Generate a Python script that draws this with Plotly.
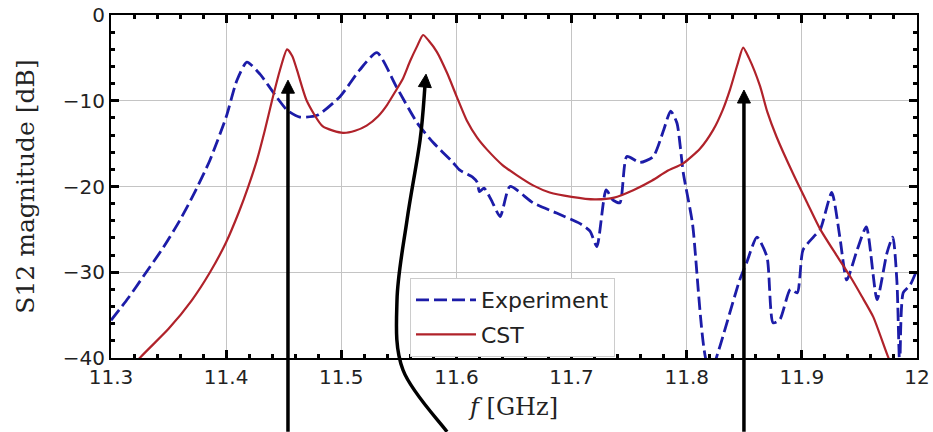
import plotly.graph_objects as go
import numpy as np

# ---------------- data ----------------
freq_cst = [11.300, 11.325, 11.350, 11.370, 11.386, 11.400, 11.411, 11.419, 11.4268, 11.4335,
            11.4398, 11.447, 11.4529, 11.4575, 11.4615, 11.470, 11.484, 11.5015, 11.512, 11.522,
            11.532, 11.5397, 11.5475, 11.5536, 11.5597, 11.566, 11.571, 11.576, 11.583, 11.592,
            11.6005, 11.609, 11.618, 11.6266, 11.640, 11.6526, 11.667, 11.681, 11.700, 11.720,
            11.737, 11.754, 11.770, 11.783, 11.797, 11.8115, 11.823, 11.8315, 11.8376, 11.844,
            11.849, 11.854, 11.8637, 11.870, 11.878, 11.892, 11.905, 11.916, 11.930, 11.942,
            11.952, 11.962, 11.975, 11.985]
s12_cst = [-44.0, -40.0, -36.6, -33.3, -30.0, -26.5, -23.0, -20.1, -16.9, -13.5,
           -10.0, -6.3, -4.0, -4.8, -6.4, -10.0, -13.0, -13.75, -13.5, -12.9,
           -11.8, -10.5, -8.8, -7.4, -5.4, -3.6, -2.33, -3.0, -4.3, -6.8,
           -9.6, -12.3, -14.3, -15.7, -17.5, -18.7, -19.9, -20.7, -21.2, -21.5,
           -21.3, -20.4, -19.3, -18.2, -17.3, -15.6, -13.4, -11.0, -8.7, -5.8,
           -3.8, -5.0, -8.3, -11.3, -14.2, -18.4, -22.0, -25.0, -28.0, -30.5,
           -32.8, -35.2, -39.9, -43.0]

freq_exp = [11.300, 11.315, 11.328, 11.345, 11.360, 11.373, 11.386, 11.400, 11.4094, 11.418,
            11.4294, 11.444, 11.453, 11.464, 11.479, 11.499, 11.516, 11.531, 11.548, 11.566,
            11.580, 11.597, 11.603, 11.614, 11.618, 11.620, 11.624, 11.630, 11.638, 11.6465,
            11.6665, 11.687, 11.707, 11.716, 11.722, 11.730, 11.736, 11.742, 11.748, 11.7594,
            11.771, 11.780, 11.786, 11.7915, 11.797, 11.805, 11.8176, 11.823, 11.828, 11.846,
            11.852, 11.861, 11.8697, 11.875, 11.881, 11.890, 11.896, 11.901, 11.910, 11.916,
            11.926, 11.933, 11.939, 11.948, 11.956, 11.9653, 11.974, 11.979, 11.9826, 11.985,
            11.988, 11.994, 12.000]
s12_exp = [-35.6, -33.0, -30.5, -27.2, -23.9, -20.6, -16.9, -11.9, -7.6, -5.5,
           -6.9, -9.6, -11.1, -11.9, -11.7, -9.5, -6.4, -4.4, -8.4, -12.6,
           -14.9, -17.2, -18.1, -18.9, -19.5, -20.6, -20.2, -21.5, -23.5, -20.0,
           -21.9, -23.1, -24.3, -25.2, -27.0, -20.4, -21.6, -21.9, -16.5, -17.2,
           -16.5, -13.4, -11.2, -12.6, -18.4, -24.3, -40.5, -40.8, -39.0, -30.9,
           -28.9, -25.9, -28.2, -35.9, -35.5, -32.0, -32.4, -27.4, -25.9, -25.0,
           -20.7, -25.9, -30.9, -27.4, -24.7, -33.2, -27.7, -25.9, -31.2, -41.0,
           -32.4, -31.5, -29.7]

x_ticks = [11.3, 11.4, 11.5, 11.6, 11.7, 11.8, 11.9, 12.0]
x_tick_labels = ["11.3", "11.4", "11.5", "11.6", "11.7", "11.8", "11.9", "12"]
y_ticks = [0, -10, -20, -30, -40]

# annotation arrows (f [GHz], dB) — tails lie below the axes
arrow_left = [(11.4537, -48.6), (11.4537, -7.6)]
arrow_mid = [(11.5918, -48.6), (11.5536, -41.4), (11.5484, -33.2), (11.5571, -23.9),
             (11.5684, -14.6), (11.5736, -6.9)]
arrow_right = [(11.8497, -48.6), (11.8497, -8.75)]

# ---------------- layout geometry ----------------
W, H = 933, 432
ML, MR, MT, MB = 111, 16, 15, 74
PW, PH = W - ML - MR, H - MT - MB
XR = [11.3, 12.0]
YR = [-40, 0]

def to_px(f, db):
    return ((f - XR[0]) / (XR[1] - XR[0]) * PW, (db - YR[0]) / (YR[1] - YR[0]) * PH)

def to_paper(px, py):
    return px / PW, py / PH

def arrow_shapes(pts):
    P = [np.array(to_px(f, d)) for f, d in pts]
    shapes = []
    tip, prev = P[-1], P[-2]
    d = (tip - prev) / np.linalg.norm(tip - prev)
    head_len, head_w = 13.0, 6.5
    shaft_end = tip - d * (head_len - 2)
    Ps = P[:-1] + [shaft_end]
    a = to_paper(*Ps[0])
    path = f"M{a[0]},{a[1]}"
    if len(Ps) == 2:
        b = to_paper(*Ps[1])
        path += f" L{b[0]},{b[1]}"
    else:
        for i in range(len(Ps) - 1):
            p0 = Ps[i - 1] if i > 0 else Ps[i]
            p1, p2 = Ps[i], Ps[i + 1]
            p3 = Ps[i + 2] if i + 2 < len(Ps) else Ps[i + 1]
            c1 = p1 + (p2 - p0) / 6
            c2 = p2 - (p3 - p1) / 6
            c1p, c2p, p2p = to_paper(*c1), to_paper(*c2), to_paper(*p2)
            path += f" C{c1p[0]},{c1p[1]} {c2p[0]},{c2p[1]} {p2p[0]},{p2p[1]}"
    shapes.append(dict(type="path", xref="paper", yref="paper", path=path,
                       line=dict(color="black", width=3.5), layer="above"))
    n = np.array([-d[1], d[0]])
    base = tip - d * head_len
    c1, c2 = base + n * head_w, base - n * head_w
    t, q1, q2 = to_paper(*tip), to_paper(*c1), to_paper(*c2)
    shapes.append(dict(type="path", xref="paper", yref="paper",
                       path=f"M{t[0]},{t[1]} L{q1[0]},{q1[1]} L{q2[0]},{q2[1]} Z",
                       fillcolor="black", line=dict(color="black", width=1), layer="above"))
    return shapes

fig = go.Figure()
fig.add_trace(go.Scatter(x=freq_exp, y=s12_exp, mode="lines", name="Experiment",
                         legendgroup="a",
                         line=dict(color="#1c1ca8", width=2.8, dash="13px,5px",
                                   shape="spline", smoothing=0.6)))
fig.add_trace(go.Scatter(x=freq_cst, y=s12_cst, mode="lines", name="CST",
                         legendgroup="b",
                         line=dict(color="#b0222a", width=2.2, shape="spline", smoothing=0.6)))

shapes = arrow_shapes(arrow_left) + arrow_shapes(arrow_mid) + arrow_shapes(arrow_right)

axis_common = dict(showline=True, linecolor="black", linewidth=2, mirror="allticks",
                   ticks="inside", ticklen=8, tickwidth=2.5, tickcolor="black",
                   showgrid=True, gridcolor="#c4c4c4", gridwidth=1, zeroline=False,
                   automargin=False,
                   tickfont=dict(family="DejaVu Sans", size=20, color="#222222"))

fig.update_layout(
    width=W, height=H,
    margin=dict(l=ML, r=MR, t=MT, b=MB, autoexpand=False),
    paper_bgcolor="white", plot_bgcolor="white",
    shapes=shapes,
    legend=dict(x=(410 - ML) / PW, y=(358 - 278) / PH, xanchor="left", yanchor="top",
                bgcolor="white", bordercolor="#cccccc", borderwidth=1,
                itemwidth=60,
                font=dict(family="DejaVu Sans", size=22, color="#222222"),
                tracegroupgap=3, traceorder="grouped"),
    xaxis=dict(range=XR, tickvals=x_ticks, ticktext=x_tick_labels,
               minor=dict(dtick=0.02, tick0=11.3, ticks="inside", ticklen=4, tickwidth=2.5,
                          tickcolor="black", showgrid=False),
               title=dict(text="<i>f</i> [GHz]", standoff=10,
                          font=dict(family="DejaVu Serif", size=24, color="#222222")),
               **axis_common),
    yaxis=dict(range=YR, tickvals=y_ticks,
               minor=dict(dtick=2, tick0=0, ticks="inside", ticklen=4, tickwidth=2.5,
                          tickcolor="black", showgrid=False),
               title=dict(text="S12 magnitude [dB]", standoff=21,
                          font=dict(family="DejaVu Serif", size=25, color="#222222")),
               **axis_common),
)

fig.write_html("out.html")
